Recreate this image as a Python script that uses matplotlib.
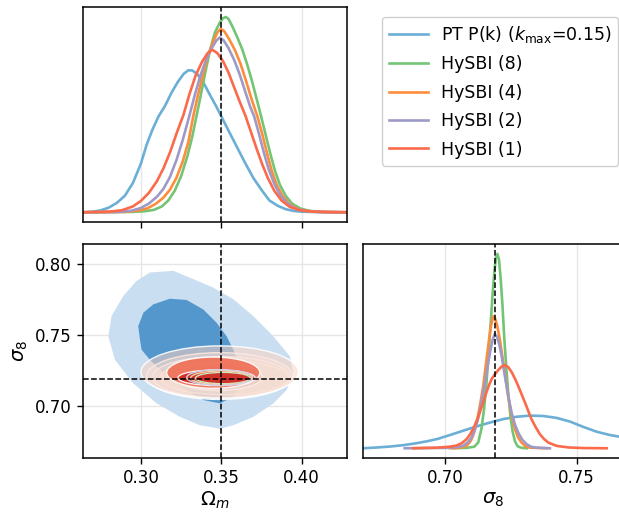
import numpy as np
import matplotlib
matplotlib.use('Agg')
import matplotlib.pyplot as plt
from matplotlib.patches import Ellipse, Polygon

# fiducial values
OM_FID = 0.35
S8_FID = 0.719

labels = [r'PT P(k) ($k_{\rm max}$=0.15)', 'HySBI (8)', 'HySBI (4)', 'HySBI (2)', 'HySBI (1)']
colors = ['#6baed6', '#74c476', '#fd8d3c', '#9e9ac8', '#fb6a4a']

# ---- 1D Omega_m marginals (density relative to HySBI(8) peak) ----
om_pt_x = [0.2641, 0.2700, 0.2750, 0.2800, 0.2850, 0.2900, 0.2950, 0.3000, 0.3035, 0.3070,
           0.3110, 0.3150, 0.3190, 0.3230, 0.3265, 0.3295, 0.3320, 0.3350, 0.3390, 0.3430,
           0.3470, 0.3510, 0.3550, 0.3600, 0.3650, 0.3700, 0.3750, 0.3800, 0.3850, 0.3900,
           0.3950, 0.4000, 0.4100, 0.4285]
om_pt_y = [0.000, 0.003, 0.010, 0.024, 0.048, 0.085, 0.150, 0.250, 0.345, 0.420,
           0.492, 0.545, 0.612, 0.668, 0.708, 0.727, 0.726, 0.708, 0.662, 0.600,
           0.540, 0.475, 0.410, 0.330, 0.250, 0.175, 0.115, 0.060, 0.034, 0.016,
           0.007, 0.003, 0.001, 0.000]

om_h8_x = [0.2641, 0.2950, 0.3020, 0.3080, 0.3130, 0.3170, 0.3210, 0.3250, 0.3290, 0.3320,
           0.3345, 0.3370, 0.3400, 0.3430, 0.3460, 0.3490, 0.3510, 0.3528, 0.3545, 0.3570,
           0.3600, 0.3630, 0.3660, 0.3690, 0.3720, 0.3745, 0.3775, 0.3805, 0.3835, 0.3865,
           0.3900, 0.3940, 0.3990, 0.4050, 0.4150, 0.4285]
om_h8_y = [0.000, 0.002, 0.005, 0.012, 0.030, 0.060, 0.110, 0.185, 0.290, 0.390,
           0.490, 0.590, 0.715, 0.830, 0.920, 0.970, 0.993, 1.000, 0.990, 0.950,
           0.895, 0.835, 0.760, 0.675, 0.580, 0.500, 0.400, 0.300, 0.210, 0.140,
           0.085, 0.045, 0.020, 0.007, 0.001, 0.000]

om_h4_x = [0.2641, 0.2900, 0.2980, 0.3040, 0.3090, 0.3140, 0.3180, 0.3220, 0.3260, 0.3295,
           0.3325, 0.3355, 0.3390, 0.3420, 0.3450, 0.3475, 0.3497, 0.3520, 0.3550, 0.3585,
           0.3620, 0.3655, 0.3690, 0.3725, 0.3755, 0.3785, 0.3815, 0.3845, 0.3880, 0.3920,
           0.3970, 0.4030, 0.4130, 0.4285]
om_h4_y = [0.000, 0.002, 0.008, 0.020, 0.042, 0.075, 0.115, 0.175, 0.260, 0.360,
           0.490, 0.600, 0.720, 0.810, 0.875, 0.920, 0.940, 0.925, 0.885, 0.830,
           0.760, 0.670, 0.575, 0.490, 0.400, 0.300, 0.210, 0.140, 0.085, 0.045,
           0.020, 0.007, 0.001, 0.000]

om_h2_x = [0.2641, 0.2860, 0.2940, 0.3000, 0.3050, 0.3100, 0.3140, 0.3180, 0.3220, 0.3260,
           0.3300, 0.3335, 0.3370, 0.3405, 0.3440, 0.3470, 0.3490, 0.3515, 0.3545, 0.3580,
           0.3615, 0.3650, 0.3680, 0.3705, 0.3735, 0.3765, 0.3795, 0.3830, 0.3865, 0.3905,
           0.3955, 0.4020, 0.4120, 0.4285]
om_h2_y = [0.000, 0.002, 0.008, 0.022, 0.045, 0.080, 0.120, 0.180, 0.265, 0.370,
           0.490, 0.600, 0.700, 0.780, 0.840, 0.880, 0.895, 0.880, 0.840, 0.780,
           0.705, 0.615, 0.540, 0.490, 0.400, 0.305, 0.220, 0.145, 0.090, 0.050,
           0.022, 0.007, 0.001, 0.000]

om_h1_x = [0.2641, 0.2800, 0.2880, 0.2950, 0.3000, 0.3050, 0.3100, 0.3140, 0.3180, 0.3220,
           0.3265, 0.3300, 0.3340, 0.3380, 0.3415, 0.3445, 0.3475, 0.3510, 0.3545, 0.3580,
           0.3615, 0.3650, 0.3685, 0.3720, 0.3755, 0.3790, 0.3830, 0.3875, 0.3925, 0.3990,
           0.4070, 0.4285]
om_h1_y = [0.000, 0.003, 0.010, 0.030, 0.058, 0.100, 0.160, 0.225, 0.305, 0.400,
           0.500, 0.600, 0.700, 0.770, 0.815, 0.832, 0.815, 0.775, 0.715, 0.640,
           0.565, 0.495, 0.410, 0.325, 0.245, 0.175, 0.110, 0.060, 0.028, 0.010,
           0.003, 0.000]

# ---- 1D sigma_8 marginals (density relative to HySBI(8) peak) ----
s8_pt_x = [0.6686, 0.6740, 0.6790, 0.6840, 0.6890, 0.6930, 0.6970, 0.7017, 0.7067, 0.7118,
           0.7169, 0.7220, 0.7271, 0.7322, 0.7373, 0.7424, 0.7475, 0.7525, 0.7576, 0.7627,
           0.7673]
s8_pt_y = [0.000, 0.004, 0.009, 0.016, 0.026, 0.036, 0.048, 0.068, 0.090, 0.112,
           0.132, 0.150, 0.162, 0.168, 0.166, 0.156, 0.137, 0.110, 0.085, 0.068,
           0.057]

s8_h8_x = [0.7029, 0.7080, 0.7110, 0.7125, 0.7137, 0.7147, 0.7156, 0.7164, 0.7172, 0.7180,
           0.7187, 0.7193, 0.7198, 0.7204, 0.7210, 0.7217, 0.7224, 0.7232, 0.7240, 0.7248,
           0.7256, 0.7265, 0.7275, 0.7290, 0.7310]
s8_h8_y = [0.000, 0.002, 0.008, 0.030, 0.100, 0.200, 0.330, 0.480, 0.640, 0.800,
           0.920, 0.985, 1.000, 0.970, 0.880, 0.740, 0.570, 0.410, 0.270, 0.160,
           0.085, 0.035, 0.010, 0.002, 0.000]

s8_h4_x = [0.7017, 0.7060, 0.7080, 0.7095, 0.7105, 0.7115, 0.7124, 0.7134, 0.7144, 0.7153,
           0.7163, 0.7172, 0.7182, 0.7190, 0.7198, 0.7207, 0.7216, 0.7226, 0.7235, 0.7245,
           0.7255, 0.7265, 0.7277, 0.7290, 0.7305, 0.7322, 0.7385]
s8_h4_y = [0.000, 0.004, 0.012, 0.035, 0.064, 0.110, 0.167, 0.240, 0.321, 0.420,
           0.527, 0.620, 0.679, 0.665, 0.625, 0.562, 0.480, 0.390, 0.300, 0.218,
           0.150, 0.098, 0.055, 0.029, 0.010, 0.003, 0.000]

s8_h2_x = [0.6845, 0.7000, 0.7040, 0.7067, 0.7085, 0.7099, 0.7112, 0.7124, 0.7134, 0.7144,
           0.7154, 0.7163, 0.7172, 0.7180, 0.7188, 0.7196, 0.7205, 0.7214, 0.7223, 0.7233,
           0.7242, 0.7252, 0.7264, 0.7277, 0.7292, 0.7309, 0.7328, 0.7347, 0.7398]
s8_h2_y = [0.000, 0.002, 0.006, 0.012, 0.030, 0.055, 0.095, 0.149, 0.215, 0.287,
           0.365, 0.440, 0.510, 0.560, 0.588, 0.575, 0.535, 0.476, 0.400, 0.321,
           0.250, 0.184, 0.125, 0.081, 0.045, 0.021, 0.007, 0.003, 0.000]

s8_h1_x = [0.6877, 0.6966, 0.7017, 0.7042, 0.7062, 0.7080, 0.7093, 0.7105, 0.7118, 0.7131,
           0.7143, 0.7156, 0.7166, 0.7176, 0.7189, 0.7201, 0.7214, 0.7226, 0.7239, 0.7252,
           0.7265, 0.7277, 0.7290, 0.7303, 0.7316, 0.7328, 0.7344, 0.7360, 0.7376, 0.7392,
           0.7424, 0.7470, 0.7525, 0.7614]
s8_h1_y = [0.000, 0.003, 0.008, 0.014, 0.026, 0.046, 0.070, 0.098, 0.138, 0.184,
           0.235, 0.287, 0.325, 0.356, 0.382, 0.402, 0.420, 0.428, 0.418, 0.392,
           0.358, 0.321, 0.278, 0.235, 0.190, 0.149, 0.108, 0.072, 0.047, 0.029,
           0.012, 0.004, 0.001, 0.000]

om_curves = [(om_pt_x, om_pt_y), (om_h8_x, om_h8_y), (om_h4_x, om_h4_y),
             (om_h2_x, om_h2_y), (om_h1_x, om_h1_y)]
s8_curves = [(s8_pt_x, s8_pt_y), (s8_h8_x, s8_h8_y), (s8_h4_x, s8_h4_y),
             (s8_h2_x, s8_h2_y), (s8_h1_x, s8_h1_y)]

# ---- 2D contours ----
# PT: outer and inner credible regions, outlines (Omega_m, sigma_8)
pt_outer = [(0.3056, 0.7943), (0.3201, 0.7955), (0.3326, 0.7896), (0.3450, 0.7836),
            (0.3575, 0.7754), (0.3699, 0.7635), (0.3824, 0.7493), (0.3927, 0.7351),
            (0.3948, 0.7232), (0.3907, 0.7114), (0.3824, 0.7019), (0.3699, 0.6924),
            (0.3575, 0.6865), (0.3492, 0.6841), (0.3367, 0.6865), (0.3243, 0.6924),
            (0.3098, 0.7019), (0.2952, 0.7161), (0.2838, 0.7327), (0.2797, 0.7493),
            (0.2817, 0.7635), (0.2890, 0.7777), (0.2973, 0.7884)]
pt_inner = [(0.2994, 0.7469), (0.2983, 0.7564), (0.3015, 0.7659), (0.3077, 0.7718),
            (0.3180, 0.7758), (0.3284, 0.7749), (0.3388, 0.7682), (0.3471, 0.7588),
            (0.3533, 0.7493), (0.3575, 0.7398), (0.3616, 0.7280), (0.3616, 0.7161),
            (0.3575, 0.7066), (0.3492, 0.7019), (0.3388, 0.7043), (0.3284, 0.7114),
            (0.3160, 0.7209), (0.3056, 0.7327), (0.3004, 0.7398)]

# HySBI: nested regions as (Om centre, s8 centre, Om width, s8 height), outer -> inner
h8_regions = [(0.352, 0.7200, 0.080, 0.024), (0.351, 0.7198, 0.050, 0.014), (0.351, 0.7198, 0.034, 0.008)]
h4_regions = [(0.350, 0.7205, 0.086, 0.029), (0.349, 0.7200, 0.053, 0.017), (0.350, 0.7200, 0.038, 0.0095)]
h2_regions = [(0.349, 0.7212, 0.091, 0.033), (0.348, 0.7205, 0.055, 0.019), (0.349, 0.7202, 0.041, 0.011)]
h1_regions = [(0.349, 0.7240, 0.098, 0.037), (0.345, 0.7236, 0.058, 0.022), (0.347, 0.7200, 0.048, 0.011)]
h_regions = [h8_regions, h4_regions, h2_regions, h1_regions]
h_fills = [['#e5f5e0', '#a1d99b', '#41ab5d'],
           ['#fee6ce', '#fdae6b', '#f16913'],
           ['#efedf5', '#bcbddc', '#807dba'],
           ['#fdd5c4', '#f0664c', '#cf2d26']]
h_alphas = [[0.40, 0.45, 0.50], [0.40, 0.55, 0.50], [0.40, 0.45, 0.50], [0.55, 0.85, 0.92]]
h_lines = ['#c7e9c0', '#fdd0a2', '#cfd0e6']

OM_LIM = (0.2639, 0.4282)
S8_LIM = (0.6634, 0.8143)
S8_LIM_1D = (0.6686, 0.7673)

fig = plt.figure(figsize=(6.19, 5.14), dpi=100)
ax_top = fig.add_axes([0.134, 0.568, 0.4265, 0.418])
ax_2d = fig.add_axes([0.134, 0.109, 0.4265, 0.416])
ax_r = fig.add_axes([0.5865, 0.109, 0.4185, 0.416])

for ax in (ax_top, ax_2d, ax_r):
    for sp in ax.spines.values():
        sp.set_linewidth(1.1)
    ax.set_axisbelow(True)
    ax.tick_params(labelsize=12, length=4.5, width=1.0)

# top: Omega_m marginal
for (x, y), c, lab in zip(om_curves, colors, labels):
    ax_top.plot(x, y, color=c, lw=1.9, label=lab, solid_joinstyle='round')
ax_top.axvline(OM_FID, color='k', ls='--', lw=1.1)
ax_top.set_xlim(*OM_LIM)
ax_top.set_ylim(-0.05, 1.05)
ax_top.set_xticks([0.30, 0.35, 0.40])
ax_top.tick_params(labelbottom=False)
ax_top.set_yticks([])
ax_top.grid(True, axis='x', color='#e6e6e6', lw=1.0)

# 2D panel
ax_2d.add_patch(Polygon(pt_outer, closed=True, fc='#cadef1', ec='none', zorder=1))
ax_2d.add_patch(Polygon(pt_inner, closed=True, fc='#5397cc', ec='none', zorder=1.1))
z = 2
for regs, fills, alphas in zip(h_regions, h_fills, h_alphas):
    for (cx, cy, w, h), fc, a in zip(regs, fills, alphas):
        ax_2d.add_patch(Ellipse((cx, cy), w, h, fc=fc, ec='none', alpha=a, zorder=z))
        ax_2d.add_patch(Ellipse((cx, cy), w, h, fc='none', ec='white', lw=1.0,
                                alpha=0.9, zorder=z + 0.05))
        z += 0.1
# inner contour lines of HySBI (8), (4), (2) showing through
for regs, lc in zip(h_regions[:3], h_lines):
    cx, cy, w, h = regs[2]
    ax_2d.add_patch(Ellipse((cx, cy), w, h, fc='none', ec=lc, lw=1.0, zorder=4))
ax_2d.axvline(OM_FID, color='k', ls='--', lw=1.1, zorder=5)
ax_2d.axhline(S8_FID, color='k', ls='--', lw=1.1, zorder=5)
ax_2d.set_xlim(*OM_LIM)
ax_2d.set_ylim(*S8_LIM)
ax_2d.set_xticks([0.30, 0.35, 0.40])
ax_2d.set_xticklabels(['0.30', '0.35', '0.40'])
ax_2d.set_yticks([0.70, 0.75, 0.80])
ax_2d.set_yticklabels(['0.70', '0.75', '0.80'])
ax_2d.grid(True, color='#e6e6e6', lw=1.0)
ax_2d.set_xlabel(r'$\Omega_m$', fontsize=14, labelpad=2)
ax_2d.set_ylabel(r'$\sigma_8$', fontsize=14, labelpad=4)

# right: sigma_8 marginal
for (x, y), c in zip(s8_curves, colors):
    ax_r.plot(x, y, color=c, lw=1.9, solid_joinstyle='round')
ax_r.axvline(S8_FID, color='k', ls='--', lw=1.1)
ax_r.set_xlim(*S8_LIM_1D)
ax_r.set_ylim(-0.05, 1.05)
ax_r.set_xticks([0.70, 0.75])
ax_r.set_xticklabels(['0.70', '0.75'])
ax_r.set_yticks([])
ax_r.grid(True, axis='x', color='#e6e6e6', lw=1.0)
ax_r.set_xlabel(r'$\sigma_8$', fontsize=14, labelpad=2)

handles, labs = ax_top.get_legend_handles_labels()
fig.legend(handles, labs, loc='upper left', bbox_to_anchor=(0.617, 0.967),
           borderaxespad=0, fontsize=12.5, handlelength=2.25, handletextpad=0.75,
           labelspacing=0.6, framealpha=1.0, edgecolor='#d0d0d0')

fig.savefig('out.png', dpi=100)
